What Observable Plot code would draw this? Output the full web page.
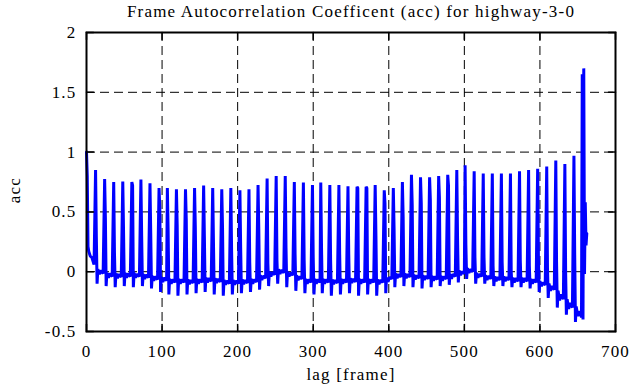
<!DOCTYPE html>
<html>
<head>
<meta charset="utf-8">
<script src="https://cdn.jsdelivr.net/npm/d3@7"></script>
<script src="https://cdn.jsdelivr.net/npm/@observablehq/plot@0.6"></script>
<style>
  html, body { margin: 0; padding: 0; background: white; }
  #chart svg { display: block; }
  #chart svg text { letter-spacing: 1.2px; }
</style>
</head>
<body>
<div id="chart"></div>
<script>
const title = "Frame Autocorrelation Coefficent (acc) for highway-3-0";
const xLabel = "lag [frame]";
const yLabel = "acc";
const xTicks = [0, 100, 200, 300, 400, 500, 600, 700];
const xTickLabels = ["0", "100", "200", "300", "400", "500", "600", "700"];
const yTicks = [-0.5, 0, 0.5, 1, 1.5, 2];
const yTickLabels = ["-0.5", "0", "0.5", "1", "1.5", "2"];

// periodic spikes (lag of each spike)
const spikeLag = [0,12,24,36,48,60,72,84,96,107,119,131,143,155,167,179,191,203,215,227,239,251,263,275,287,299,310,322,334,346,358,370,382,394,406,418,430,442,454,466,478,490,501,513,525,537,549,561,573,585,597,609,621,633,645];
// value at the spike
const spikePeak = [1.0,0.85,0.775,0.75,0.755,0.75,0.77,0.74,0.70,0.70,0.69,0.69,0.70,0.72,0.70,0.69,0.70,0.68,0.69,
  0.725,0.78,0.80,0.80,0.75,0.745,0.725,0.745,0.725,0.725,0.715,0.71,0.71,0.725,0.68,0.70,0.75,0.81,0.79,
  0.79,0.80,0.81,0.85,0.89,0.84,0.82,0.82,0.82,0.82,0.84,0.85,0.86,0.88,0.93,0.90,0.97];
// value one frame after the spike
const spikeNext = [0.8,0.3,0.45,0.16,0.35,0.72,0.3,0.32,0.53,0.35,0.39,0.44,0.37,0.29,0.25,0.37,0.18,0.2,0.08,
  0.35,0.07,0.1,0.2,0.15,0.1,0.12,0.2,0.1,0.15,0.15,0.7,0.7,0.3,0.57,0.36,0.46,0.56,0.57,
  0.6,0.62,0.72,0.28,0.23,0.12,0.12,0.05,0.08,0.0,0.1,0.05,0.12,0.03,0.08,0.0,0.15];
// dip two frames after the spike
const spikeDip = [0.21,-0.1,-0.12,-0.13,-0.12,-0.13,-0.12,-0.14,
  -0.17,-0.19,-0.2,-0.19,-0.18,-0.17,-0.19,-0.2,-0.19,-0.18,-0.17,
  -0.15,-0.12,-0.1,-0.13,-0.16,-0.18,-0.19,-0.18,-0.2,-0.19,-0.18,-0.2,-0.19,-0.2,-0.18,
  -0.13,-0.12,-0.13,-0.14,-0.13,-0.12,-0.11,-0.09,
  -0.06,-0.1,-0.1,-0.12,-0.12,-0.13,-0.13,-0.14,
  -0.17,-0.22,-0.3,-0.36,-0.42];
// noisy floor between spikes (3, 5, 7 and 10 frames after each spike)
const floorA = [0.17,0.02,-0.01,-0.015,-0.01,-0.01,-0.02,-0.035,-0.045,-0.06,-0.06,-0.065,-0.06,-0.05,-0.055,-0.07,-0.07,-0.065,-0.06,
  -0.03,0.0,0.02,0.0,-0.03,-0.06,-0.06,-0.06,-0.065,-0.06,-0.055,-0.06,-0.06,-0.065,-0.05,-0.015,-0.015,-0.025,-0.03,
  -0.035,-0.035,-0.02,0.01,0.03,-0.01,-0.03,-0.04,-0.04,-0.05,-0.05,-0.06,-0.08,-0.1,-0.16,-0.23,-0.29];
const floorB = [0.13,-0.02,-0.05,-0.055,-0.05,-0.05,-0.06,-0.075,-0.085,-0.1,-0.1,-0.105,-0.1,-0.09,-0.095,-0.11,-0.11,-0.105,-0.1,
  -0.07,-0.04,-0.02,-0.04,-0.07,-0.1,-0.1,-0.1,-0.105,-0.1,-0.095,-0.1,-0.1,-0.105,-0.085,-0.055,-0.055,-0.065,-0.07,
  -0.075,-0.075,-0.06,-0.03,-0.01,-0.05,-0.07,-0.08,-0.08,-0.09,-0.09,-0.1,-0.12,-0.16,-0.24,-0.31,-0.37];
const floorC = [0.12,0.01,-0.015,-0.02,-0.015,-0.02,-0.025,-0.04,-0.05,-0.065,-0.065,-0.07,-0.065,-0.055,-0.06,-0.075,-0.075,-0.07,-0.065,
  -0.035,-0.005,0.015,-0.01,-0.04,-0.065,-0.065,-0.065,-0.07,-0.065,-0.06,-0.065,-0.065,-0.07,-0.045,-0.02,-0.02,-0.03,-0.035,
  -0.04,-0.04,-0.02,0.0,0.02,-0.02,-0.035,-0.045,-0.045,-0.055,-0.055,-0.065,-0.09,-0.12,-0.19,-0.26,-0.33];
const floorD = [0.06,-0.015,-0.04,-0.045,-0.04,-0.04,-0.05,-0.065,-0.075,-0.09,-0.09,-0.095,-0.09,-0.08,-0.085,-0.1,-0.1,-0.095,-0.085,
  -0.055,-0.025,-0.01,-0.03,-0.06,-0.09,-0.09,-0.09,-0.095,-0.09,-0.085,-0.09,-0.09,-0.09,-0.06,-0.045,-0.045,-0.055,-0.06,
  -0.065,-0.06,-0.04,-0.015,0.0,-0.04,-0.06,-0.07,-0.07,-0.08,-0.08,-0.09,-0.11,-0.15,-0.23,-0.3,-0.38];
// final frames, including the largest spike
const tailLag = [656, 657, 658, 659, 660, 661, 662];
const tailAcc = [1.65, -0.4, 1.70, -0.02, 0.58, 0.22, 0.32];

const data = [];
spikeLag.forEach((L, k) => {
  data.push({lag: L, acc: spikePeak[k]});
  data.push({lag: L + 1, acc: spikeNext[k]});
  data.push({lag: L + 2, acc: spikeDip[k]});
  data.push({lag: L + 3, acc: floorA[k]});
  data.push({lag: L + 5, acc: floorB[k]});
  data.push({lag: L + 7, acc: floorC[k]});
  data.push({lag: L + 10, acc: floorD[k]});
});
tailLag.forEach((L, i) => data.push({lag: L, acc: tailAcc[i]}));

const xLab = new Map(xTicks.map((t, i) => [t, xTickLabels[i]]));
const yLab = new Map(yTicks.map((t, i) => [t, yTickLabels[i]]));
const tickShape = {draw(ctx, l) { ctx.moveTo(0, 0); ctx.lineTo(0, -l); }};
const font = "Liberation Serif";
const fs = 17;
const tickLen = 7;

const chart = Plot.plot({
  width: 630,
  height: 387,
  marginLeft: 86,
  marginRight: 15,
  marginTop: 32,
  marginBottom: 56,
  style: {fontFamily: font, fontSize: fs + "px", background: "white", color: "black"},
  x: {domain: [0, 700]},
  y: {domain: [-0.5, 2]},
  marks: [
    Plot.gridX(xTicks.slice(1, -1), {stroke: "black", strokeOpacity: 1, strokeWidth: 1, strokeDasharray: "9,5"}),
    Plot.gridY(yTicks.slice(1, -1), {stroke: "black", strokeOpacity: 1, strokeWidth: 1, strokeDasharray: "9,5"}),
    Plot.line(data, {x: "lag", y: "acc", stroke: "#0000ff", strokeWidth: 3, strokeLinejoin: "bevel"}),
    Plot.vector(xTicks, {x: d => d, frameAnchor: "bottom", length: tickLen, rotate: 0, anchor: "start", shape: tickShape, stroke: "black", strokeWidth: 1.5}),
    Plot.vector(xTicks, {x: d => d, frameAnchor: "top", length: tickLen, rotate: 180, anchor: "start", shape: tickShape, stroke: "black", strokeWidth: 1.5}),
    Plot.vector(yTicks, {y: d => d, frameAnchor: "left", length: tickLen, rotate: 90, anchor: "start", shape: tickShape, stroke: "black", strokeWidth: 1.5}),
    Plot.vector(yTicks, {y: d => d, frameAnchor: "right", length: tickLen, rotate: -90, anchor: "start", shape: tickShape, stroke: "black", strokeWidth: 1.5}),
    Plot.frame({stroke: "black", strokeWidth: 2}),
    Plot.axisX(xTicks, {tickSize: 0, tickPadding: 13, tickFormat: d => xLab.get(d), fontSize: fs, fontFamily: font, label: null}),
    Plot.axisY(yTicks, {tickSize: 0, tickPadding: 10, tickFormat: d => yLab.get(d), fontSize: fs, fontFamily: font, label: null}),
    Plot.text([title], {text: d => d, frameAnchor: "top", lineAnchor: "top", dy: -28, fontSize: fs, fontFamily: font}),
    Plot.text([yLabel], {text: d => d, frameAnchor: "left", textAnchor: "middle", lineAnchor: "middle", rotate: -90, dx: -72, dy: 8, fontSize: fs, fontFamily: font}),
    Plot.text([xLabel], {text: d => d, frameAnchor: "bottom", lineAnchor: "top", dy: 36, fontSize: fs, fontFamily: font})
  ]
});
document.getElementById("chart").appendChild(chart);
</script>
</body>
</html>
